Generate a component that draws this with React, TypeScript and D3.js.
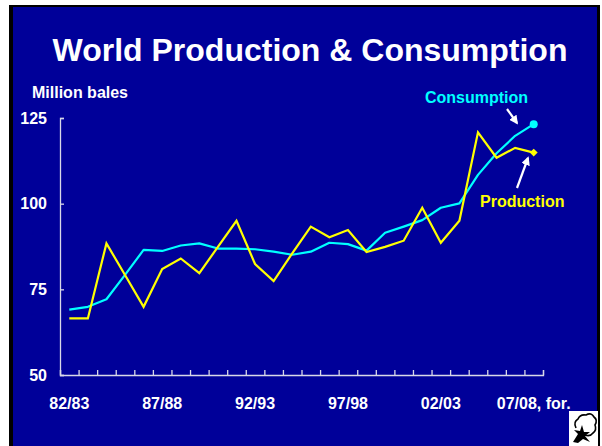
import React, {useEffect, useRef} from 'react'
import * as d3 from 'd3'

// seasons 82/83 .. 07/08
const seasons = [
  '82/83', '83/84', '84/85', '85/86', '86/87', '87/88', '88/89', '89/90', '90/91',
  '91/92', '92/93', '93/94', '94/95', '95/96', '96/97', '97/98', '98/99', '99/00',
  '00/01', '01/02', '02/03', '03/04', '04/05', '05/06', '06/07', '07/08'
];

const production = [
  66.5, 66.5, 88.4, 79.2, 69.9, 80.9, 84.0, 79.7, 87.4, 95.0, 82.4, 77.4, 85.5,
  93.3, 90.2, 92.3, 85.9, 87.4, 89.2, 98.8, 88.6, 95.0, 120.8, 113.4, 116.3, 114.9
];

const consumption = [
  69.1, 69.9, 72.1, 79.2, 86.5, 86.2, 87.8, 88.4, 86.9, 86.9, 86.7, 86.0, 85.1,
  86.0, 88.6, 88.2, 86.3, 91.5, 93.3, 95.2, 98.8, 100.1, 108.4, 114.7, 119.8, 123.2
];

const xLabels = ['82/83', '87/88', '92/93', '97/98', '02/03', '07/08, for.'];
const yTicks = [50, 75, 100, 125];

const font = 'Arial, "Liberation Sans", Helvetica, sans-serif';

const Chart = () => {
  const axisRef = useRef(null);

  const margin = {top: 118, right: 59, bottom: 71, left: 60};
  const width = 602 - margin.left - margin.right;
  const height = 446 - margin.top - margin.bottom;

  const x = d3.scaleBand().domain(seasons).range([0, width]);
  const y = d3.scaleLinear().domain([50, 125]).range([height, 0]);
  const cx = d => x(d) + x.bandwidth() / 2;

  useEffect(() => {
    const g = d3.select(axisRef.current);
    g.selectAll('*').remove();

    // y axis, ticks point inward
    const yAxis = d3.axisRight(y).tickValues(yTicks).tickSize(4).tickFormat('');
    g.append('g').call(yAxis);

    // x axis, ticks at band edges pointing up
    const edges = seasons.map((s, i) => i * x.step()).concat([width]);
    const xEdge = d3.scaleLinear().domain([0, width]).range([0, width]);
    const xAxis = d3.axisTop(xEdge).tickValues(edges).tickSize(5).tickFormat('');
    g.append('g').attr('transform', 'translate(0,' + height + ')').call(xAxis);

    g.selectAll('.domain').attr('stroke', '#d8d8e8').attr('stroke-width', 1.3);
    g.selectAll('.tick line').attr('stroke', '#d8d8e8').attr('stroke-width', 1.3);
  }, []);

  const seriesLine = d3.line()
    .x((d, i) => cx(seasons[i]))
    .y(d => y(d));

  const last = seasons.length - 1;
  const lx = cx(seasons[last]);

  return (
    <svg width={602} height={446} style={{position: 'absolute', left: 0, top: 0}}>
      <rect x={0} y={0} width={602} height={446} fill="#ffffff" />
      <rect x={9} y={5} width={591} height={445} fill="#000000" />
      <rect x={13} y={7} width={584} height={445} fill="#000099" />

      <text x={310} y={61} textAnchor="middle" fill="#ffffff"
        style={{font: 'bold 32px ' + font}}>World Production &amp; Consumption</text>

      <text x={32} y={98} fill="#ffffff" style={{font: 'bold 16px ' + font}}>Million bales</text>

      <g transform={'translate(' + margin.left + ',' + margin.top + ')'}>
        <g ref={axisRef}></g>

        {yTicks.map(t => (
          <text key={t} x={-13} y={y(t) + 5.5} textAnchor="end" fill="#ffffff"
            style={{font: 'bold 16px ' + font}}>{t}</text>
        ))}

        {xLabels.map((l, i) => (
          <text key={l} x={cx(seasons[i * 5])} y={height + 34} textAnchor="middle" fill="#ffffff"
            style={{font: 'bold 16px ' + font}}>{l}</text>
        ))}

        <path d={seriesLine(consumption)} fill="none" stroke="#00ffff" strokeWidth={2.2} strokeLinejoin="round" />
        <path d={seriesLine(production)} fill="none" stroke="#ffff00" strokeWidth={2.2} strokeLinejoin="miter" />

        <circle cx={lx} cy={y(consumption[last])} r={4} fill="#00ffff" />
        <path d={d3.symbol(d3.symbolDiamond2, 40)()}
          transform={'translate(' + lx + ',' + y(production[last]) + ')'} fill="#ffff00" />
      </g>

      <text x={425} y={103} fill="#00ffff" style={{font: 'bold 16px ' + font}}>Consumption</text>
      <text x={480} y={207} fill="#ffff00" style={{font: 'bold 16px ' + font}}>Production</text>

      <defs>
        <marker id="ah" viewBox="0 0 10 10" refX={8} refY={5} markerWidth={4} markerHeight={4} orient="auto">
          <path d="M0,0 L10,5 L0,10 z" fill="#ffffff" />
        </marker>
      </defs>
      <line x1={507} y1={109} x2={517} y2={123} stroke="#ffffff" strokeWidth={2.2} markerEnd="url(#ah)" />
      <line x1={517} y1={188} x2={528} y2={158} stroke="#ffffff" strokeWidth={2.2} markerEnd="url(#ah)" />

      {/* cotton logo */}
      <rect x={569} y={411} width={29} height={35} fill="#ffffff" />
      <rect x={598} y={405} width={2} height={41} fill="#000000" />
      <path d="M576,428 q-3,-6 2,-9 q2,-5 8,-4 q5,-3 8,2 q4,3 1,8 q2,5 -2,8 q-3,4 -8,2"
        fill="none" stroke="#000000" strokeWidth={1.6} />
      <path d="M573,442 L578,434 L574,430 L580,431 L582,425 L584,432 L590,432 L585,436 L590,442 L583,439 L578,443 z"
        fill="#000000" />
    </svg>
  )
}

export default function App() {
  return <Chart />
}
